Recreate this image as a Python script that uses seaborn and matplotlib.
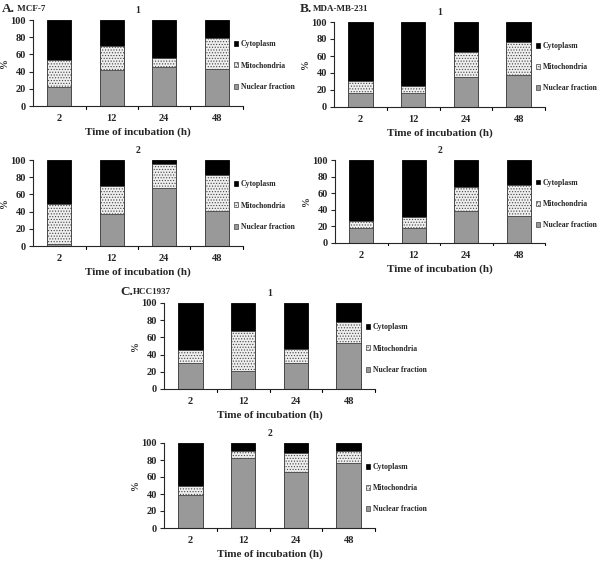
import matplotlib
matplotlib.use("Agg")
import matplotlib.pyplot as plt
from matplotlib.patches import Patch
import seaborn as sns
import pandas as pd
import numpy as np

sns.set_style("white")
plt.rcParams['font.family'] = ['Liberation Serif', 'DejaVu Serif']
plt.rcParams['font.weight'] = 'bold'
plt.rcParams['hatch.color'] = '#8a8a8a'
plt.rcParams['hatch.linewidth'] = 0.5

times = ['2', '12', '24', '48']
series_names = ['Cytoplasm', 'Mitochondria', 'Nuclear fraction']

# MCF-7
a1_nuclear = [22, 42, 45, 43]
a1_mito = [32, 28, 11, 36]
a1_cyto = [46, 30, 44, 21]
a2_nuclear = [2, 37, 68, 41]
a2_mito = [47, 33, 27, 42]
a2_cyto = [51, 30, 5, 17]
# MDA-MB-231
b1_nuclear = [16, 16, 35, 38]
b1_mito = [15, 9, 30, 38]
b1_cyto = [69, 75, 35, 24]
b2_nuclear = [18, 18, 38, 32]
b2_mito = [9, 13, 29, 38]
b2_cyto = [73, 69, 33, 30]
# HCC1937
c1_nuclear = [30, 21, 30, 54]
c1_mito = [15, 47, 17, 24]
c1_cyto = [55, 32, 53, 22]
c2_nuclear = [39, 82, 66, 77]
c2_mito = [11, 9, 22, 14]
c2_cyto = [50, 9, 12, 9]

W, H = 600, 561
fig = plt.figure(figsize=(W / 100, H / 100), dpi=100)

GRAY = '#999999'
MITO_FACE = '#eeeeee'
HATCH = '......'


def px_axes(left, right, top, bottom):
    return fig.add_axes([left / W, 1 - bottom / H, (right - left) / W, (bottom - top) / H])


def panel(ax, nuclear, mito, cyto, title):
    n = np.array(nuclear, dtype=float)
    m = np.array(mito, dtype=float)
    c = np.array(cyto, dtype=float)
    df = pd.DataFrame({'time': times, 'top': n + m + c, 'mid': n + m, 'low': n})
    sns.barplot(data=df, x='time', y='top', ax=ax, color='black', width=0.46,
                edgecolor='black', linewidth=0.6, saturation=1)
    sns.barplot(data=df, x='time', y='mid', ax=ax, color=MITO_FACE, width=0.46,
                edgecolor='#444444', linewidth=0.6, hatch=HATCH, saturation=1)
    sns.barplot(data=df, x='time', y='low', ax=ax, color=GRAY, width=0.46,
                edgecolor='#444444', linewidth=0.6, saturation=1)
    ax.set_ylim(0, 100)
    ax.set_xlim(-0.5, 3.5)
    ax.set_yticks([0, 20, 40, 60, 80, 100])
    ax.tick_params(axis='y', labelsize=7.5, length=3, width=0.8, direction='out', left=True, pad=2)
    ax.tick_params(axis='x', labelsize=7.5, length=0, pad=6)
    for b in [0.5, 1.5, 2.5, 3.5]:
        ax.plot([b, b], [0, -3], color='black', lw=0.8, clip_on=False, transform=ax.transData)
    for lab in ax.get_xticklabels() + ax.get_yticklabels():
        lab.set_fontweight('bold')
    sns.despine(ax=ax)
    ax.spines['left'].set_linewidth(0.8)
    ax.spines['bottom'].set_linewidth(0.8)
    ax.set_xlabel('Time of incubation (h)', fontsize=8, fontweight='bold', labelpad=3)
    ax.set_ylabel('%', fontsize=7, fontweight='bold')
    ax.yaxis.set_label_coords(-24 / 210, 0.5)
    ax.set_title(title, fontsize=7, fontweight='bold', pad=5)
    handles = [Patch(facecolor='black', edgecolor='black', linewidth=0.5),
               Patch(facecolor=MITO_FACE, edgecolor='#444444', hatch=HATCH, linewidth=0.5),
               Patch(facecolor=GRAY, edgecolor='#444444', linewidth=0.5)]
    ax.legend(handles, series_names, loc='center left', bbox_to_anchor=(0.955, 0.47),
              frameon=False, prop={'family': 'Liberation Serif', 'weight': 'bold', 'size': 5.6},
              handlelength=0.6, handleheight=0.6, handletextpad=0.3, labelspacing=1.7,
              borderpad=0, borderaxespad=0)


axA1 = px_axes(33, 243, 20, 106)
panel(axA1, a1_nuclear, a1_mito, a1_cyto, '1')
axA2 = px_axes(33, 243, 160, 246)
panel(axA2, a2_nuclear, a2_mito, a2_cyto, '2')
axB1 = px_axes(334, 545, 22, 107)
panel(axB1, b1_nuclear, b1_mito, b1_cyto, '1')
axB2 = px_axes(335, 545, 160, 243)
panel(axB2, b2_nuclear, b2_mito, b2_cyto, '2')
axC1 = px_axes(164, 375, 303, 389)
panel(axC1, c1_nuclear, c1_mito, c1_cyto, '1')
axC2 = px_axes(164, 375, 443, 528)
panel(axC2, c2_nuclear, c2_mito, c2_cyto, '2')


def label(x, y, big, small):
    fig.text(x / W, 1 - y / H, big, fontsize=9.5, fontweight='bold', va='center', ha='left')
    fig.text((x + len(big) * 6.4) / W, 1 - y / H, small, fontsize=6.5, fontweight='bold', va='center', ha='left')


label(2, 9, 'A.', ' MCF-7')
label(300, 9, 'B.', 'MDA-MB-231')
label(120, 292, 'C.', 'HCC1937')

fig.savefig('out.png', dpi=100)
